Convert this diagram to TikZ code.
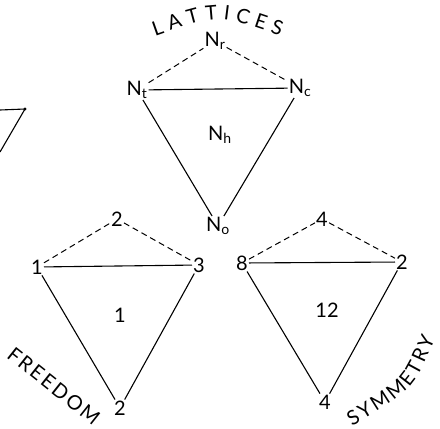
\documentclass[tikz,border=0pt]{standalone}
\usepackage{fontspec}
\setmainfont{Lato}
\usetikzlibrary{decorations.text}
\begin{document}
\begin{tikzpicture}[x=1pt,y=-1pt,
  lab/.style={font=\fontsize{20}{22}\selectfont, inner sep=1pt},
  edge/.style={line width=1.1pt},
  dashedge/.style={line width=1pt, dash pattern=on 6pt off 4pt},
  curvetext/.style={decorate, decoration={text along path, text align=fit to path}}
]
\useasboundingbox (0,0) rectangle (440,429);

% titles
\path[curvetext, decoration={text={|\fontsize{20}{22}\selectfont|LATTICES}}]
  (155,36) .. controls (217.5,14) .. (280,36);
\path[curvetext, decoration={text={|\fontsize{20}{22}\selectfont|FREEDOM}}]
  (6,357) -- (93,426);
\path[curvetext, decoration={text={|\fontsize{20}{22}\selectfont|SYMMETRY}}]
  (352,426) .. controls (413,390) .. (435,339);

% top triangle
\node[lab] (Nr) at (215,41) {N\textsubscript{r}};
\node[lab] (Nt) at (137,90) {N\textsubscript{t}};
\node[lab] (Nc) at (300,88) {N\textsubscript{c}};
\node[lab] (Nh) at (220,135) {N\textsubscript{h}};
\node[lab] (No) at (218,226) {N\textsubscript{o}};
\draw[dashedge] (Nt) -- (Nr);
\draw[dashedge] (Nr) -- (Nc);
\draw[edge] (Nt) -- (Nc);
\draw[edge] (Nt) -- (No);
\draw[edge] (Nc) -- (No);

% left triangle
\node[lab] (A1) at (37,267) {1};
\node[lab] (A2) at (117,219) {2};
\node[lab] (A3) at (199,265) {3};
\node[lab] (A4) at (120,408) {2};
\node[lab] (Ac) at (120,315) {1};
\draw[dashedge] (A1) -- (A2);
\draw[dashedge] (A2) -- (A3);
\draw[edge] (A1) -- (A3);
\draw[edge] (A1) -- (A4);
\draw[edge] (A3) -- (A4);

% right triangle
\node[lab] (B1) at (242,263) {8};
\node[lab] (B2) at (322,219) {4};
\node[lab] (B3) at (402,262) {2};
\node[lab] (B4) at (325,402) {4};
\node[lab] (Bc) at (327,310) {12};
\draw[dashedge] (B1) -- (B2);
\draw[dashedge] (B2) -- (B3);
\draw[edge] (B1) -- (B3);
\draw[edge] (B1) -- (B4);
\draw[edge] (B3) -- (B4);

% fragment at left edge
\coordinate (f1) at (0,110);
\coordinate (f2) at (25,109);
\coordinate (f3) at (0,152);
\draw[edge] (f1) -- (f2) -- (f3);
\fill (f2) circle (1.6);
\end{tikzpicture}
\end{document}
